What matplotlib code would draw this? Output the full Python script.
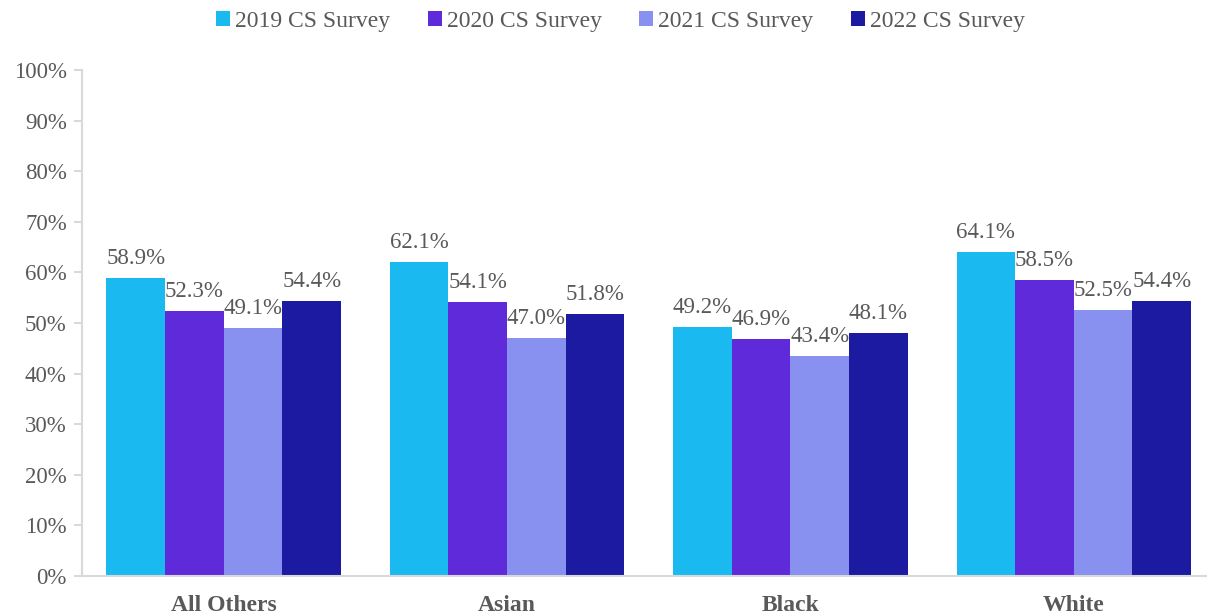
import numpy as np
import matplotlib.pyplot as plt

plt.rcParams['font.family'] = ['Liberation Serif', 'DejaVu Serif']

categories = ['All Others', 'Asian', 'Black', 'White']
series = ['2019 CS Survey', '2020 CS Survey', '2021 CS Survey', '2022 CS Survey']
values = {
    '2019 CS Survey': [58.9, 62.1, 49.2, 64.1],
    '2020 CS Survey': [52.3, 54.1, 46.9, 58.5],
    '2021 CS Survey': [49.1, 47.0, 43.4, 52.5],
    '2022 CS Survey': [54.4, 51.8, 48.1, 54.4],
}
colors = ['#1ab9f0', '#5f2ad9', '#8890f0', '#1b1aa0']

text_color = '#595959'
fig = plt.figure(figsize=(12.07, 6.15), dpi=100)
ax = fig.add_axes([0.068, 0.0634, 0.932, 0.8226])

x = np.arange(len(categories))
w = 0.207
for i, s in enumerate(series):
    pos = x + (i - 1.5) * w
    bars = ax.bar(pos, values[s], width=w, color=colors[i], label=s)
    for b, v in zip(bars, values[s]):
        ax.text(b.get_x() + b.get_width() / 2, v + 1.8, f'{v:.1f}%',
                ha='center', va='bottom', fontsize=16.5, color=text_color)

ax.set_xlim(-0.5, 3.47)
ax.set_ylim(0, 100)
ax.set_yticks(np.arange(0, 101, 10))
ax.set_yticklabels([f'{t}%' for t in range(0, 101, 10)])
ax.set_xticks(x)
ax.set_xticklabels(categories, fontweight='bold')
ax.tick_params(axis='y', labelsize=16.5, labelcolor=text_color, color='#d9d9d9',
               length=6, width=1.5, pad=5)
ax.tick_params(axis='x', labelsize=17, labelcolor=text_color, length=0, pad=14)

for side in ['top', 'right']:
    ax.spines[side].set_visible(False)
for side in ['left', 'bottom']:
    ax.spines[side].set_color('#d9d9d9')
    ax.spines[side].set_linewidth(1.5)

fig.legend(*ax.get_legend_handles_labels(), loc='center', bbox_to_anchor=(0.514, 0.965),
           ncol=4, frameon=False, fontsize=17, labelcolor=text_color,
           handlelength=0.6, handleheight=0.6, handletextpad=0.2, columnspacing=1.6)

plt.savefig('out.png')
